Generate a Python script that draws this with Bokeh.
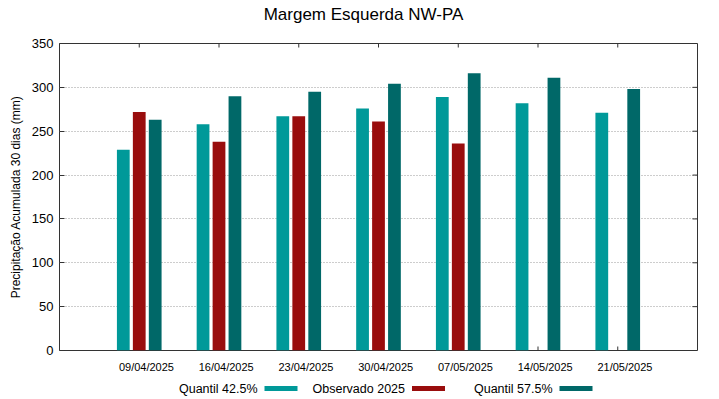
import math
from bokeh.plotting import figure
from bokeh.models import Range1d, LinearAxis, FixedTicker, ColumnDataSource
from bokeh.layouts import column
from bokeh.core.properties import value
from bokeh.embed import file_html
from bokeh.resources import INLINE

# ---- data ----
dates = ["09/04/2025", "16/04/2025", "23/04/2025", "30/04/2025",
         "07/05/2025", "14/05/2025", "21/05/2025"]
quantil_425 = [229, 258, 267, 276, 289, 282, 271]
observado_2025 = [272, 238, 267, 261, 236, float("nan"), float("nan")]
quantil_575 = [263, 290, 295, 304, 316, 311, 298]
series_names = ["Quantil 42.5%", "Observado 2025", "Quantil 57.5%"]
y_ticks = [0, 50, 100, 150, 200, 250, 300, 350]
title_text = "Margem Esquerda NW-PA"
y_label = "Precipitação Acumulada 30 dias (mm)"

# ---- styles / layout ----
FONT = "Liberation Sans"
colors = ["#009999", "#990d0d", "#006868"]
TICK = "#333333"
W = 719
HH = 30            # header (title) height
LH = 20            # legend row height
H = 399 - LH - HH  # main figure height
FL, FR = 59, W - 22  # frame left/right in page pixels
FT, FB = 43, 350     # frame top/bottom in page pixels

idx = list(range(len(dates)))
offsets = [-0.2, 0.0, 0.2]
series = [quantil_425, observado_2025, quantil_575]
x_lo, x_hi = -1, len(dates)


def blank_fig(height):
    f = figure(width=W, height=height, output_backend="svg", toolbar_location=None,
               x_range=Range1d(FL, FR), y_range=Range1d(0, height),
               x_axis_location=None, y_axis_location=None, min_border=0)
    f.outline_line_color = None
    f.xgrid.visible = False
    f.ygrid.visible = False
    return f


# ---- title row ----
hd = blank_fig(HH)
hd.text(x=[363], y=[HH - 14], text=[title_text], text_font=value(FONT),
        text_font_size="17px", text_align="center", text_baseline="middle",
        text_color="#000000")

# ---- main plot ----
p = figure(width=W, height=H, output_backend="svg", toolbar_location=None,
           x_range=Range1d(x_lo, x_hi), y_range=Range1d(y_ticks[0], y_ticks[-1]),
           x_axis_location=None, y_axis_location=None,
           min_border_left=FL, min_border_right=W - FR, min_border_top=FT - HH,
           min_border_bottom=H - (FB - HH))

# inward tick marks (bottom, top at group centers; right at y ticks)
p.ray(x=idx, y=[y_ticks[0]] * len(idx), length=4, angle=math.pi / 2,
      length_units="screen", line_color=TICK, line_width=1)
p.ray(x=idx, y=[y_ticks[-1]] * len(idx), length=4, angle=-math.pi / 2,
      length_units="screen", line_color=TICK, line_width=1)
p.ray(x=[x_hi] * len(y_ticks), y=y_ticks, length=5, angle=math.pi,
      length_units="screen", line_color=TICK, line_width=1)

for vals, off, col in zip(series, offsets, colors):
    src = ColumnDataSource(dict(x=[i + off for i in idx], top=vals))
    p.vbar(x="x", top="top", bottom=0, width=0.16, source=src,
           fill_color=col, line_color=None)

p.outline_line_color = "#333333"
p.outline_line_width = 1
p.xgrid.visible = False
p.ygrid.ticker = FixedTicker(ticks=y_ticks)
p.ygrid.grid_line_color = "#9a9a9a"
p.ygrid.grid_line_dash = "1 2"
p.ygrid.grid_line_width = 1

# left axis
yl = LinearAxis(ticker=FixedTicker(ticks=y_ticks), axis_label=y_label)
yl.major_tick_in = 5
yl.major_tick_out = 0
yl.minor_tick_in = 0
yl.minor_tick_out = 0
yl.axis_line_color = None
yl.major_tick_line_color = TICK
yl.major_label_standoff = 6
yl.major_label_text_font = FONT
yl.major_label_text_font_size = "13px"
yl.major_label_text_color = "#000000"
yl.axis_label_text_font = FONT
yl.axis_label_text_font_size = "12px"
yl.axis_label_text_font_style = "normal"
yl.axis_label_text_color = "#000000"
yl.axis_label_standoff = 6
p.add_layout(yl, "left")

# bottom date labels (slightly shifted right of the tick, as in the reference)
lab_off = 0.09
lab_pos = [i + lab_off for i in idx]
xl = LinearAxis(ticker=FixedTicker(ticks=lab_pos),
                major_label_overrides={pos: d for pos, d in zip(lab_pos, dates)})
xl.major_tick_in = 0
xl.major_tick_out = 0
xl.minor_tick_in = 0
xl.minor_tick_out = 0
xl.axis_line_color = None
xl.major_label_standoff = 10
xl.major_label_text_font = FONT
xl.major_label_text_font_size = "11px"
xl.major_label_text_color = "#000000"
p.add_layout(xl, "below")

# ---- legend row ----
lg = blank_fig(LH)
sw_left0 = 264
col_w = 147.5
sw_w = 33
gap = 7
yc = 11
sw_lefts = [sw_left0 + k * col_w for k in range(len(series_names))]
lg.text(x=[s - gap for s in sw_lefts], y=[yc] * len(series_names), text=series_names,
        text_font=value(FONT), text_font_size="12.5px", text_align="right",
        text_baseline="middle", text_color="#000000")
lg.quad(left=sw_lefts, right=[s + sw_w for s in sw_lefts],
        bottom=[yc - 2.5] * len(series_names), top=[yc + 2.5] * len(series_names),
        fill_color=colors, line_color=None)

layout = column(hd, p, lg)
open("out.html", "w").write(file_html(layout, INLINE))
